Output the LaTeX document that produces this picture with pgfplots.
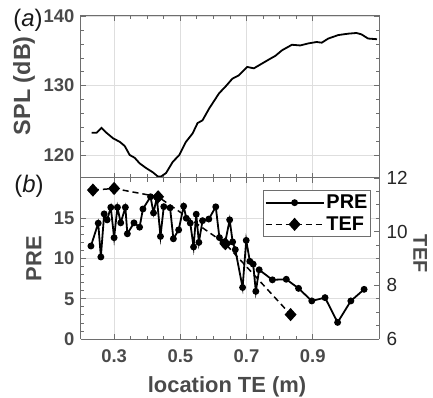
\documentclass[border=0pt]{standalone}
\usepackage{pgfplots}
\pgfplotsset{compat=1.18}
\usepackage{fontspec}
\setmainfont{Liberation Sans}
\definecolor{axgray}{HTML}{6E6E6E}
\definecolor{lblgray}{HTML}{4A4A4A}
\definecolor{gridgray}{HTML}{DEDEDE}
\pgfplotsset{
  longleg/.style={legend image code/.code={\draw[mark repeat=2, mark phase=2, ##1] plot coordinates {(0bp,0bp) (29bp,0bp) (58bp,0bp)};}},
}

\begin{document}
\begin{tikzpicture}
\pgfplotsset{
  base/.style={
    scale only axis, width=298bp,
    xmin=0.2, xmax=1.1,
    xtick={0.3,0.5,0.7,0.9},
    minor x tick num=3,
    tick align=inside,
    major tick length=5bp, minor tick length=3.5bp,
    axis line style={axgray, line width=1bp},
    every tick/.style={axgray, line width=0.8bp},
    /pgf/number format/assume math mode=true,
    ticklabel style={font=\fontsize{18.5}{18.5}\selectfont\bfseries, text=lblgray},
    label style={font=\fontsize{22}{22}\selectfont\bfseries, text=lblgray},
    xticklabel style={yshift=-7bp},
    yticklabel style={xshift=-3bp},
  }
}
% ---------------- (a) SPL ----------------
\begin{axis}[base, at={(0,161bp)}, anchor=south west, height=162bp,
  ymin=116.68, ymax=140.05, ytick={120,130,140}, minor y tick num=4,
  xticklabels={},
  grid=major, major grid style={gridgray, line width=0.6bp},
  ylabel={SPL (dB)},
  ylabel style={at={(axis description cs:-0.191,0.57)}, anchor=center,
    font=\fontsize{23.5}{23.5}\selectfont\bfseries},
]
\addplot[black, line width=1.8bp, no markers] coordinates {
(0.232,123.2) (0.247,123.2) (0.262,123.9) (0.277,123.2) (0.297,122.4)
(0.317,121.9) (0.332,121.3) (0.347,120.0) (0.362,119.6) (0.377,118.8)
(0.397,118.1) (0.417,117.5) (0.432,116.9) (0.442,116.9) (0.457,117.4)
(0.477,119.0) (0.497,120.0) (0.517,121.9) (0.537,123.1) (0.552,124.6)
(0.567,125.0) (0.587,126.7) (0.617,128.9) (0.637,129.9) (0.657,131.0)
(0.677,131.5) (0.702,132.7) (0.722,132.5) (0.747,133.2) (0.772,133.9)
(0.787,134.3) (0.807,135.1) (0.837,135.9) (0.862,135.8) (0.887,136.1)
(0.912,136.3) (0.927,136.2) (0.947,136.8) (0.977,137.3) (1.007,137.5)
(1.032,137.6) (1.047,137.4) (1.067,136.8) (1.094,136.7)
};
\end{axis}
% ---------------- (b) PRE (left) ----------------
\begin{axis}[base, at={(0,0)}, anchor=south west, height=161bp,
  ymin=0, ymax=20, ytick={0,5,10,15}, minor y tick num=4,
  axis y line*=left,
  grid=major, major grid style={gridgray, line width=0.6bp},
  xlabel={location TE (m)},
  xlabel style={at={(axis description cs:0.49,-0.298)}, anchor=center},
  ylabel={PRE},
  ylabel style={at={(axis description cs:-0.158,0.5)}, anchor=center},
  legend style={at={(rel axis cs:0.973,0.925)}, anchor=north east,
    draw=axgray, line width=1bp, fill=white,
    font=\fontsize{20}{20}\selectfont\bfseries, text=black,
    inner xsep=1bp, inner ysep=2.5bp, row sep=2.5bp, cells={anchor=west}},
  legend cell align=left,
]
\addplot[black, line width=1.8bp, mark=*, mark size=2.5bp, longleg] coordinates {
(0.230,11.55) (0.252,14.39) (0.260,10.19) (0.270,15.54) (0.279,14.8)
(0.290,16.36) (0.300,12.58) (0.310,16.36) (0.320,14.43) (0.334,16.36)
(0.340,13.07) (0.360,14.43) (0.377,13.89) (0.387,16.15) (0.410,17.67)
(0.419,15.66) (0.429,17.6) (0.440,12.74) (0.450,16.44) (0.469,16.3)
(0.479,12.45) (0.495,13.55) (0.510,16.5) (0.518,15.0) (0.530,14.4)
(0.540,11.43) (0.548,15.5) (0.556,12.0) (0.567,14.7) (0.586,14.9)
(0.607,16.42) (0.618,12.6) (0.629,12.04) (0.634,11.7) (0.649,14.8)
(0.658,12.06) (0.666,11.1) (0.688,6.4) (0.699,12.25) (0.710,9.65)
(0.720,9.3) (0.728,5.92) (0.738,8.6) (0.778,7.35) (0.820,7.42)
(0.857,6.29) (0.897,4.73) (0.937,5.14) (0.975,2.06) (1.015,4.73)
(1.055,6.17)
};
\addlegendentry{PRE}
\addlegendimage{black, line width=1.5bp, dash pattern=on 6bp off 4bp, mark=diamond*, mark size=5.5bp, mark options={solid, xscale=1.2}, longleg}
\addlegendentry{TEF}
\end{axis}
% ---------------- (b) TEF (right) ----------------
\begin{axis}[base, at={(0,0)}, anchor=south west, height=161bp,
  ymin=6, ymax=12, ytick={6,8,10,12}, minor y tick num=3,
  axis y line*=right, axis x line=none,
  yticklabel style={font=\fontsize{19}{19}\selectfont, text=black!85, xshift=7bp},
  ylabel={TEF},
  ylabel style={at={(axis description cs:1.138,0.53)}, anchor=center, rotate=180,
    font=\fontsize{20}{20}\selectfont\bfseries},
]
\addplot[black, line width=1.5bp, dash pattern=on 6bp off 4bp, mark=diamond*, mark size=5.5bp,
  mark options={solid, xscale=1.2}] coordinates {
(0.236,11.55) (0.300,11.61) (0.433,11.3) (0.636,9.55) (0.833,6.91)
};
\end{axis}
\node[font=\fontsize{24}{24}\selectfont, text=black!90] at (-53bp,319bp) {(\textit{a})};
\node[font=\fontsize{24}{24}\selectfont, text=black!90] at (-52bp,153bp) {(\textit{b})};
\pgfresetboundingbox
\path[use as bounding box] (-81bp,-59bp) rectangle (352bp,339bp);
\end{tikzpicture}
\end{document}
